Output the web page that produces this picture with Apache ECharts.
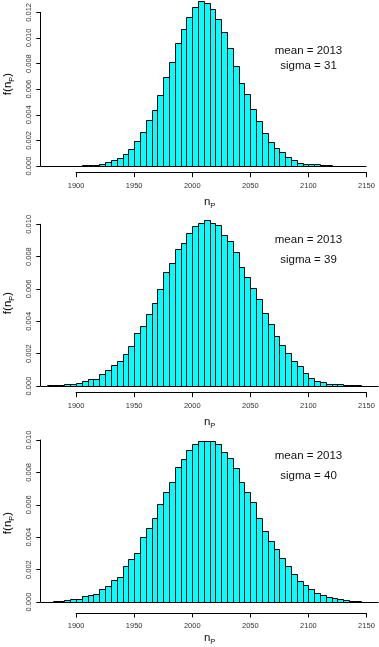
<!DOCTYPE html>
<html><head><meta charset="utf-8">
<script src="https://cdn.jsdelivr.net/npm/echarts@6/dist/echarts.min.js"></script>
<style>html,body{margin:0;padding:0;background:#fff}#c{width:379px;height:647px}</style>
</head><body><div id="c"></div>
<script>
// ---- data ----
const binWidth = 5;
const binLeft = [1870,1875,1880,1885,1890,1895,1900,1905,1910,1915,1920,1925,1930,1935,1940,1945,
  1950,1955,1960,1965,1970,1975,1980,1985,1990,1995,2000,2005,2010,2015,2020,2025,2030,2035,2040,2045,
  2050,2055,2060,2065,2070,2075,2080,2085,2090,2095,2100,2105,2110,2115,2120,2125,2130,2135,2140,2145,2150,2155];
// sigma = 31 (bins 1870..2145)
const density1 = [0,0,0,0,0,0,0,
  0.00005,0.00005,0.00005,0.00013,0.00029,0.00044,0.00060,0.00091,0.00130,
  0.00193,0.00263,0.00357,0.00438,0.00552,0.00693,0.00813,0.00961,0.01068,0.01164,
  0.01240,0.01290,0.01273,0.01224,0.01148,0.01050,0.00919,0.00779,0.00646,0.00560,
  0.00443,0.00354,0.00260,0.00185,0.00138,0.00107,0.00068,0.00044,0.00026,0.00018,
  0.00018,0.00013,0.00005,0.00005,0,0,0,0,0,0];
// sigma = 39 (bins 1870..2155)
const density2 = [0,0.00005,0.00005,0.00005,0.00011,0.00011,0.00018,0.00030,0.00042,0.00046,
  0.00073,0.00096,0.00129,0.00152,0.00195,0.00250,
  0.00325,0.00368,0.00448,0.00516,0.00597,0.00704,0.00760,0.00850,0.00883,0.00945,
  0.00987,0.01011,0.01024,0.01011,0.00993,0.00931,0.00898,0.00826,0.00733,0.00675,
  0.00605,0.00537,0.00450,0.00385,0.00312,0.00252,0.00201,0.00152,0.00121,0.00079,
  0.00048,0.00032,0.00024,0.00015,0.00015,0.00015,0.00005,0.00005,0.00005,0,0,0];
// sigma = 40 (bins 1870..2155)
const density3 = [0,0,0.00005,0.00005,0.00010,0.00016,0.00016,0.00034,0.00042,0.00052,
  0.00082,0.00100,0.00136,0.00154,0.00220,0.00263,
  0.00305,0.00401,0.00455,0.00521,0.00605,0.00677,0.00743,0.00834,0.00884,0.00938,
  0.00978,0.00994,0.00992,0.00992,0.00974,0.00926,0.00890,0.00830,0.00741,0.00679,
  0.00615,0.00517,0.00439,0.00375,0.00325,0.00269,0.00224,0.00174,0.00130,0.00108,
  0.00082,0.00054,0.00044,0.00032,0.00024,0.00018,0.00012,0.00006,0.00006,0,0,0];
const xTicks = [1900, 1950, 2000, 2050, 2100, 2150];
const yMaxTick = [0.012, 0.010, 0.010];
const yStep = 0.002;
const meanText = ['mean = 2013', 'mean = 2013', 'mean = 2013'];
const sigmaText = ['sigma = 31', 'sigma = 39', 'sigma = 40'];
const densities = [density1, density2, density3];

// ---- layout (pixels) ----
const xLo = 1869.2, xHi = 2160.8;
const gridLeft = 40.3, gridWidth = 338.7;
const pxPerUnit = gridWidth / (xHi - xLo);
const tickAxisLeft = gridLeft + (xTicks[0] - xLo) * pxPerUnit;
const tickAxisWidth = (xTicks[xTicks.length - 1] - xTicks[0]) * pxPerUnit;
const panels = [
  {top: 12.3, base: 166.0, axisY: 172.7, meanY: 51, sigmaY: 65.5, ylabY: 84},
  {top: 224.3, base: 386.0, axisY: 392.7, meanY: 240.3, sigmaY: 259.5, ylabY: 303},
  {top: 440.0, base: 606.3, axisY: 613.0, meanY: 456.3, sigmaY: 475.7, ylabY: 523}
];
const FONT = 'Liberation Sans, Arial, Helvetica, sans-serif';
const rich = {
  m: {fontSize: 11.5, fontFamily: FONT, color: '#111', lineHeight: 16, verticalAlign: 'middle'},
  s: {fontSize: 7.5, fontFamily: FONT, color: '#111', lineHeight: 9, verticalAlign: 'bottom'}
};

function renderBar(params, api) {
  const x0 = api.value(0), x1 = api.value(1), y = api.value(2);
  const p0 = api.coord([x0, 0]);
  const p1 = api.coord([x1, y]);
  const L = Math.round(p0[0]) + 0.5, R = Math.round(p1[0]) + 0.5;
  const B = Math.round(p0[1]) + 0.5, T = Math.round(p1[1]) + 0.5;
  if (y === 0) {
    return {type: 'line', shape: {x1: L - 1, y1: B, x2: R, y2: B}, style: {stroke: '#000', lineWidth: 1}};
  }
  return {type: 'rect', shape: {x: L, y: T, width: R - L, height: B - T},
    style: {fill: '#00FFFF', stroke: '#000', lineWidth: 1}};
}

const grid = [], xAxis = [], yAxis = [], series = [], graphic = [];
panels.forEach((p, i) => {
  grid.push({left: gridLeft, width: gridWidth, top: p.top, height: p.base - p.top, containLabel: false});
  grid.push({left: tickAxisLeft, width: tickAxisWidth, top: p.axisY - 10, height: 10, containLabel: false});
  const gMain = 2 * i, gTick = 2 * i + 1;
  xAxis.push({
    gridIndex: gMain, type: 'value', min: xLo, max: xHi,
    axisLine: {show: false}, axisTick: {show: false}, axisLabel: {show: false}, splitLine: {show: false},
    name: '{m|n}{s|P}', nameLocation: 'middle', nameGap: 28,
    nameTextStyle: {rich: rich}
  });
  xAxis.push({
    gridIndex: gTick, type: 'value', min: xTicks[0], max: xTicks[xTicks.length - 1], interval: 50,
    position: 'bottom',
    axisLine: {show: true, lineStyle: {color: '#000', width: 1}},
    axisTick: {show: true, length: 4.5, lineStyle: {color: '#000', width: 1}},
    axisLabel: {show: true, fontSize: 7.5, fontFamily: FONT, color: '#333', margin: 9,
      formatter: v => String(v)},
    splitLine: {show: false}
  });
  yAxis.push({
    gridIndex: gMain, type: 'value', min: 0, max: yMaxTick[i], interval: yStep,
    axisLine: {show: true, lineStyle: {color: '#000', width: 1}},
    axisTick: {show: true, length: 4, lineStyle: {color: '#000', width: 1}},
    axisLabel: {show: true, rotate: 90, fontSize: 7.5, fontFamily: FONT, color: '#333', margin: 7,
      formatter: v => v.toFixed(3)},
    splitLine: {show: false}
  });
  yAxis.push({gridIndex: gTick, type: 'value', show: false, min: 0, max: 1});
  const d = densities[i].map((v, k) => [binLeft[k], binLeft[k] + binWidth, v]);
  series.push({
    type: 'custom', xAxisIndex: gMain, yAxisIndex: gMain, clip: false,
    renderItem: renderBar, encode: {x: [0, 1], y: 2}, data: d, silent: true, animation: false
  });
  graphic.push({type: 'text', x: 308.5, y: p.meanY,
    style: {text: meanText[i], font: '11.5px ' + FONT, fill: '#111', align: 'center', verticalAlign: 'middle'}});
  graphic.push({type: 'text', x: 308.5, y: p.sigmaY,
    style: {text: sigmaText[i], font: '11.5px ' + FONT, fill: '#111', align: 'center', verticalAlign: 'middle'}});
  graphic.push({type: 'text', x: 8, y: p.ylabY, rotation: Math.PI / 2,
    style: {text: '{m|f(n}{s|P}{m|)}', rich: rich, align: 'center', verticalAlign: 'middle'}});
});

const chart = echarts.init(document.getElementById('c'), null, {renderer: 'canvas'});
chart.setOption({animation: false, backgroundColor: '#fff', grid, xAxis, yAxis, series, graphic});
</script>
</body></html>
